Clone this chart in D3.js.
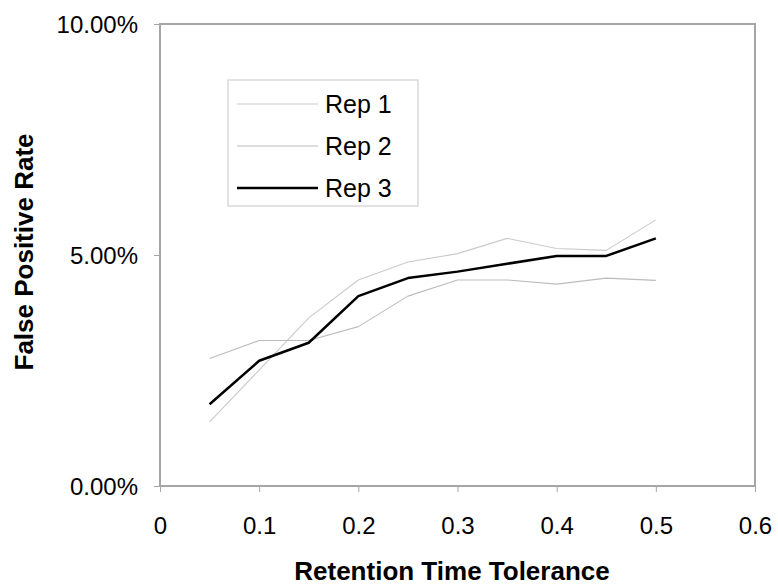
<!DOCTYPE html>
<html><head><meta charset="utf-8">
<script src="https://cdn.jsdelivr.net/npm/d3@7"></script>
<style>body{margin:0;background:#fff}svg{display:block}text{font-family:"Liberation Sans",Arial,sans-serif}</style>
</head><body>
<svg id="c" width="778" height="587"></svg>
<script>
const tolerance = [0.05,0.1,0.15,0.2,0.25,0.3,0.35,0.4,0.45,0.5];
const rep1 = [1.39,2.51,3.64,4.46,4.85,5.03,5.36,5.14,5.10,5.76];
const rep2 = [2.76,3.15,3.15,3.45,4.11,4.46,4.46,4.37,4.50,4.45];
const rep3 = [1.77,2.71,3.10,4.11,4.50,4.64,4.81,4.98,4.98,5.36];
const xTicks = [0,0.1,0.2,0.3,0.4,0.5,0.6];
const yTicks = [0,5,10];
const seriesNames = ["Rep 1","Rep 2","Rep 3"];

const svg = d3.select("#c");
const L=160,R=755,T=24,B=486;
const x = d3.scaleLinear().domain([0,0.6]).range([L,R]);
const y = d3.scaleLinear().domain([0,10]).range([B,T]);

svg.append("rect").attr("x",L).attr("y",T).attr("width",R-L).attr("height",B-T)
  .attr("fill","none").attr("stroke","#a6a6a6").attr("stroke-width",2);

const xa = svg.append("g").attr("transform",`translate(0,${B})`)
  .call(d3.axisBottom(x).tickValues(xTicks).tickSize(6).tickPadding(25).tickFormat(d=>d===0?"0":d3.format(".1f")(d)));
const ya = svg.append("g").attr("transform",`translate(${L},0)`)
  .call(d3.axisLeft(y).tickValues(yTicks).tickSize(6).tickPadding(16).tickFormat(d=>d3.format(".2f")(d)+"%"));
[xa,ya].forEach(g=>{
  g.select(".domain").remove();
  g.selectAll(".tick line").attr("stroke","#a6a6a6").attr("stroke-width",1);
  g.selectAll("text").attr("font-size",24).attr("fill","#000");
});
ya.selectAll("text").attr("dy","0.35em");

const line = d3.line().x((d,i)=>x(tolerance[i])).y(d=>y(d));
const styles = [{c:"#cacaca",w:1.1},{c:"#bcbcbc",w:1.1},{c:"#000",w:2.5}];
[rep1,rep2,rep3].forEach((s,k)=>{
  svg.append("path").datum(s).attr("d",line).attr("fill","none")
    .attr("stroke",styles[k].c).attr("stroke-width",styles[k].w).attr("stroke-linejoin","round");
});

const lg = svg.append("g");
lg.append("rect").attr("x",228).attr("y",80).attr("width",190).attr("height",126)
  .attr("fill","#fff").attr("stroke","#cfcfcf").attr("stroke-width",1.2);
seriesNames.forEach((n,k)=>{
  const yy = 104 + k*42;
  lg.append("line").attr("x1",237).attr("x2",318).attr("y1",yy).attr("y2",yy)
    .attr("stroke",styles[k].c).attr("stroke-width",styles[k].w);
  lg.append("text").attr("x",325).attr("y",yy).attr("dy","0.35em").attr("font-size",25).text(n);
});

svg.append("text").attr("x",452).attr("y",580).attr("text-anchor","middle")
  .attr("font-size",26).attr("font-weight","bold").text("Retention Time Tolerance");
svg.append("text").attr("transform","translate(33,252) rotate(-90)").attr("text-anchor","middle")
  .attr("font-size",26).attr("font-weight","bold").text("False Positive Rate");
</script>
</body></html>
